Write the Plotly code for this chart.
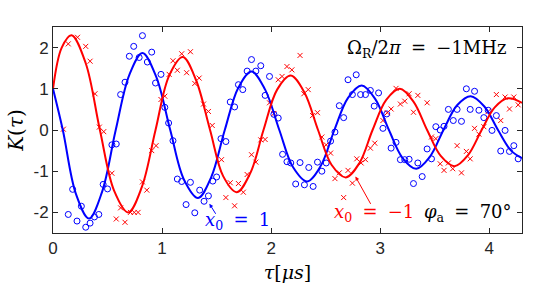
import plotly.graph_objects as go

# ---- data ----
t_blue = [0.14, 0.18, 0.22, 0.26, 0.30, 0.34, 0.38, 0.42, 0.46, 0.50, 0.54, 0.58, 0.62, 0.66, 0.70,
          0.74, 0.79, 0.82, 0.865, 0.905, 0.94, 0.99, 1.025, 1.06, 1.10, 1.14, 1.18, 1.22, 1.26, 1.30,
          1.345, 1.385, 1.425, 1.465, 1.50, 1.54, 1.585, 1.625, 1.665, 1.70, 1.74, 1.78, 1.82, 1.86,
          1.905, 1.945, 1.985, 2.025, 2.065, 2.105, 2.145, 2.18, 2.225, 2.265, 2.305, 2.345, 2.385,
          2.425, 2.465, 2.505, 2.545, 2.585, 2.625, 2.665, 2.705, 2.745, 2.78, 2.82, 2.865, 2.91,
          2.945, 2.985, 3.025, 3.06, 3.10, 3.145, 3.185, 3.225, 3.265, 3.305, 3.345, 3.385, 3.43,
          3.47, 3.51, 3.55, 3.585, 3.625, 3.67, 3.705, 3.745, 3.79, 3.825, 3.865, 3.905, 3.95, 3.99,
          4.025, 4.065, 4.105, 4.145, 4.185, 4.225, 4.265]
k_blue = [-2.05, -1.44, -2.21, -1.85, -2.36, -2.26, -2.11, -2.05, -1.32, -1.43, -0.36, -0.34, 0.86, 1.16, 1.79,
          2.03, 1.76, 2.29, 1.65, 1.89, 1.14, 1.35, 0.55, 0.17, -0.26, -1.19, -1.25, -1.81, -1.27, -2.01,
          -1.46, -1.73, -1.60, -1.24, -1.14, -0.21, -0.28, 0.68, 0.56, 1.10, 0.98, 1.43, 1.71, 1.43,
          1.56, 0.84, 1.30, 0.38, 0.29, -0.59, -0.77, -0.80, -1.31, -0.79, -1.33, -0.91, -1.37,
          -0.78, -1.00, -0.80, -0.27, -0.05, 0.59, 0.30, 1.22, 0.86, 1.34, 0.86, 0.86, 0.96,
          0.58, 0.90, 0.04, 0.39, -0.44, -0.30, -0.72, -0.72, -0.71, -1.30, -0.80, -1.13, -0.46,
          -0.70, 0.08, 0.00, 0.09, 0.50, 0.23, 0.50, 0.21, 1.00, 0.50, 0.94, 0.48, 0.30, 0.48,
          -0.01, 0.35, -0.51, -0.01, -0.52, -0.38, -0.70]

t_red = [0.095, 0.14, 0.225, 0.30, 0.34, 0.385, 0.425, 0.465, 0.54, 0.58, 0.62, 0.66, 0.71, 0.745, 0.78,
         0.82, 0.86, 0.905, 0.945, 0.99, 1.025, 1.065, 1.10, 1.14, 1.18, 1.225, 1.26, 1.30, 1.34, 1.38,
         1.425, 1.46, 1.545, 1.585, 1.625, 1.665, 1.70, 1.745, 1.78, 1.82, 1.86, 1.905, 1.945, 1.985,
         2.025, 2.065, 2.10, 2.145, 2.19, 2.265, 2.30, 2.34, 2.38, 2.425, 2.465, 2.505, 2.545, 2.585,
         2.625, 2.665, 2.705, 2.745, 2.785, 2.825, 2.865, 2.91, 2.95, 3.025, 3.065, 3.10, 3.145, 3.185,
         3.225, 3.265, 3.305, 3.345, 3.43, 3.47, 3.51, 3.55, 3.585, 3.625, 3.665, 3.705, 3.745, 3.79,
         3.825, 3.865, 3.905, 3.95, 3.99, 4.065, 4.105, 4.145, 4.185, 4.225, 4.265]
k_red = [0.02, 2.09, 2.25, 2.03, 1.67, 0.88, 0.07, -0.04, -1.05, -2.16, -1.89, -2.24, -2.00, -2.00, -2.00,
         -1.26, -1.46, -0.50, -0.38, 0.74, 0.82, 1.35, 1.68, 1.45, 1.85, 1.39, 1.90, 1.13, 1.26, 0.63,
         0.45, 0.11, -0.72, -1.64, -1.28, -1.84, -1.30, -1.51, -1.08, -0.60, -0.78, -0.24, -0.23, 0.66,
         0.40, 1.22, 1.30, 1.54, 1.46, 1.81, 0.88, 0.98, 0.35, 0.42, -0.17, -0.36, -0.56, -1.18,
         -1.04, -1.64, -0.98, -1.29, -0.70, -0.80, -0.72, -0.44, -0.32, 0.23, 0.42, 0.51, 1.01, 0.63,
         0.70, 0.88, 0.43, 0.84, 0.66, -0.17, -0.21, -0.82, -0.98, -0.80, -0.94, -0.38, -1.04, -0.52,
         -0.70, 0.04, -0.10, 0.08, 0.45, 0.86, 0.23, 0.80, 0.51, 0.80, 0.61]

# fitted curves, knots
fit_t_blue = [0, 0.09, 0.21, 0.33, 0.45, 0.575, 0.70, 0.82, 0.945, 1.075, 1.20, 1.33, 1.45, 1.575, 1.70,
              1.82, 1.945, 2.075, 2.20, 2.33, 2.455, 2.58, 2.705, 2.83, 2.955, 3.08, 3.205, 3.33,
              3.455, 3.58, 3.705, 3.83, 3.955, 4.08, 4.20, 4.30]
fit_k_blue = [1.0, 0.0, -1.55, -2.15, -1.50, 0.0, 1.34, 1.87, 1.30, 0.0, -1.20, -1.65, -1.15, 0.0, 1.03,
              1.42, 0.98, 0.0, -0.90, -1.25, -0.87, 0.0, 0.78, 1.08, 0.75, 0.0, -0.68, -0.94,
              -0.65, 0.0, 0.60, 0.82, 0.57, 0.0, -0.50, -0.68]
fit_t_red = [0, 0.08, 0.17, 0.30, 0.43, 0.56, 0.69, 0.815, 0.94, 1.065, 1.19, 1.31, 1.44, 1.56, 1.685,
             1.81, 1.93, 2.055, 2.18, 2.305, 2.43, 2.555, 2.685, 2.81, 2.93, 3.055, 3.18, 3.305,
             3.43, 3.555, 3.68, 3.805, 3.93, 4.05, 4.17, 4.30]
fit_k_red = [1.0, 2.0, 2.3, 1.62, 0.0, -1.47, -2.0, -1.38, 0.0, 1.32, 1.77, 1.22, 0.0, -1.12, -1.51,
             -1.04, 0.0, 0.98, 1.32, 0.91, 0.0, -0.85, -1.15, -0.80, 0.0, 0.73, 1.0, 0.69,
             0.0, -0.63, -0.88, -0.61, 0.0, 0.55, 0.77, 0.66]

x_ticks = [0, 1, 2, 3, 4]
y_ticks = [-2, -1, 0, 1, 2]
y_ticktext = ["-2", "-1", "0", "1", "2"]

BLUE = "#0000FF"
RED = "#FF0000"
AX = "#262626"
SERIF = "DejaVu Serif"
SP = "&#8197;"  # extra math spacing

fig = go.Figure()
fig.add_trace(go.Scatter(x=t_blue, y=k_blue, mode="markers",
                         marker=dict(symbol="circle-open", size=6, color=BLUE, line=dict(width=1)),
                         showlegend=False))
fig.add_trace(go.Scatter(x=t_red, y=k_red, mode="markers",
                         marker=dict(symbol="x-thin-open", size=5, color=RED, line=dict(width=1, color=RED)),
                         showlegend=False))
fig.add_trace(go.Scatter(x=fit_t_blue, y=fit_k_blue, mode="lines",
                         line=dict(color=BLUE, width=2, shape="spline", smoothing=1.0), showlegend=False))
fig.add_trace(go.Scatter(x=fit_t_red, y=fit_k_red, mode="lines",
                         line=dict(color=RED, width=2, shape="spline", smoothing=1.0), showlegend=False))

axis_common = dict(showgrid=False, zeroline=False, showline=True, linecolor=AX, linewidth=1,
                   mirror="ticks", ticks="inside", ticklen=5, tickcolor=AX, automargin=False,
                   tickfont=dict(family="Liberation Sans", size=17, color=AX))
fig.update_xaxes(range=[0, 4.3], tickvals=x_ticks, **axis_common,
                 title=dict(text="<i>τ</i>[<i>μs</i>]", font=dict(family=SERIF, size=19, color="black"), standoff=8))
fig.update_yaxes(range=[-2.5, 2.5], tickvals=y_ticks, ticktext=y_ticktext, **axis_common,
                 title=dict(text="<i>K</i>(<i>τ</i>)", font=dict(family=SERIF, size=20, color="black"), standoff=4))

fig.add_annotation(x=1.434, y=-1.79, ax=1.50, ay=-2.07, axref="x", ayref="y", text="",
                   showarrow=True, arrowhead=2, arrowsize=0.8, arrowwidth=1, arrowcolor=BLUE)
fig.add_annotation(x=1.69, y=-2.22, text=f"<i>x</i><sub>0</sub>{SP} = {SP}1", showarrow=False,
                   font=dict(family=SERIF, size=18, color=BLUE))
fig.add_annotation(x=2.773, y=-1.13, ax=2.92, ay=-1.83, axref="x", ayref="y", text="",
                   showarrow=True, arrowhead=2, arrowsize=0.8, arrowwidth=1, arrowcolor=RED)
fig.add_annotation(x=2.945, y=-2.02, text=f"<i>x</i><sub>0</sub>{SP} = {SP}−1", showarrow=False,
                   font=dict(family=SERIF, size=18, color=RED))
fig.add_annotation(x=0.982, y=0.095, xref="paper", yref="paper", xanchor="right", yanchor="middle",
                   text=f"<i>φ</i><sub>a</sub>{SP} = {SP}70°", showarrow=False,
                   font=dict(family=SERIF, size=18, color="black"))
fig.add_annotation(x=0.97, y=0.895, xref="paper", yref="paper", xanchor="right", yanchor="middle",
                   text=f"Ω<sub>R</sub>/2<i>π</i>{SP} = {SP}−1MHz", showarrow=False,
                   font=dict(family=SERIF, size=18, color="black"))

fig.update_layout(width=538, height=287, margin=dict(l=53, r=16, t=27, b=54),
                  plot_bgcolor="white", paper_bgcolor="white")
fig.write_html("out.html", config={"displayModeBar": False},
               post_script="document.body.style.margin='0';document.body.style.padding='0';"
                           "document.documentElement.style.overflow='hidden';")
